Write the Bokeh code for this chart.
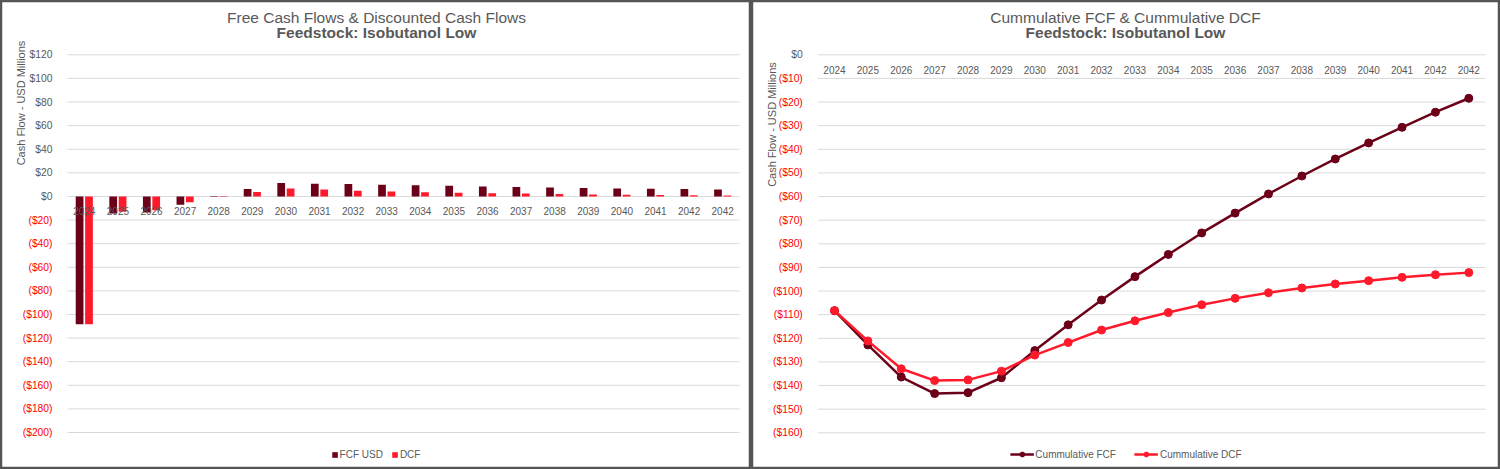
import numpy as np
from bokeh.plotting import figure
from bokeh.models import (LinearAxis, FixedTicker, CustomJSTickFormatter, Range1d,
                          Legend, LegendItem, ColumnDataSource)
from bokeh.transform import dodge
from bokeh.layouts import row
from bokeh.embed import file_html
from bokeh.resources import INLINE
from bokeh.core.properties import value

# ---------------- data ----------------
year_labels = ["2024", "2025", "2026", "2027", "2028", "2029", "2030", "2031", "2032", "2033",
               "2034", "2035", "2036", "2037", "2038", "2039", "2040", "2041", "2042", "2042"]
fcf_usd = [-108.3, -14.4, -13.6, -7.0, 0.4, 6.3, 11.4, 10.8, 10.5, 9.9,
           9.5, 9.0, 8.5, 8.0, 7.5, 7.1, 6.7, 6.5, 6.2, 5.8]
dcf = [-108.3, -12.9, -11.8, -5.0, 0.3, 3.7, 6.8, 5.9, 4.9, 4.2,
       3.5, 3.1, 2.7, 2.4, 2.0, 1.7, 1.4, 1.3, 1.1, 0.9]
cum_fcf = [-108.3, -122.8, -136.4, -143.4, -143.0, -136.7, -125.2, -114.3, -103.8, -93.9,
           -84.5, -75.4, -67.0, -58.9, -51.3, -44.1, -37.3, -30.7, -24.3, -18.4]
cum_dcf = [-108.3, -121.1, -132.9, -137.9, -137.6, -133.9, -127.1, -121.8, -116.5, -112.6,
           -109.1, -105.8, -103.1, -100.7, -98.7, -97.0, -95.6, -94.2, -93.1, -92.2]

left_ticks = [120, 100, 80, 60, 40, 20, 0, -20, -40, -60, -80, -100, -120, -140, -160, -180, -200]
left_tick_labels = ["$120", "$100", "$80", "$60", "$40", "$20", "$0", "($20)", "($40)", "($60)",
                    "($80)", "($100)", "($120)", "($140)", "($160)", "($180)", "($200)"]
right_ticks = [0, -10, -20, -30, -40, -50, -60, -70, -80, -90, -100, -110, -120, -130, -140, -150, -160]
right_tick_labels = ["$0", "($10)", "($20)", "($30)", "($40)", "($50)", "($60)", "($70)", "($80)",
                     "($90)", "($100)", "($110)", "($120)", "($130)", "($140)", "($150)", "($160)"]

# ---------------- style ----------------
WL, WR, H = 751, 749, 469
FONT = "Liberation Sans"
GRAY = "#595959"
RED_LABEL = "#ff0000"
MAROON = "#6b0018"
RED = "#ff1a2b"
GRID = "#d9d9d9"
BORDER = "#555555"
N = len(year_labels)


def mapper(panel_w, px0, px1, py_a, v_a, py_b, v_b, panel_h=469):
    ux = N / (px1 - px0)
    uy = (v_a - v_b) / (py_b - py_a)
    fx = lambda px: (px - px0) * ux
    fy = lambda py: v_a - (py - py_a) * uy
    return fx, fy, (fx(0), fx(panel_w)), (fy(panel_h), fy(0))


def base_panel(width, fx, fy, xr, yr, ticks, tick_labels, title1, title2, ytitle, ytitle_px, title_cx):
    p = figure(width=width, height=H, x_range=Range1d(*xr), y_range=Range1d(*yr),
               x_axis_type=None, y_axis_type=None, toolbar_location=None,
               output_backend="svg", min_border=0,
               outline_line_color=BORDER, outline_line_width=3.5,
               background_fill_color="white", border_fill_color="white")
    # gridlines over the category area
    p.segment(x0=0, x1=N, y0=ticks, y1=ticks, line_color=GRID, line_width=1)

    # y axes: non-negative labels gray, negative labels red
    pos = [(t, l) for t, l in zip(ticks, tick_labels) if t >= 0]
    neg = [(t, l) for t, l in zip(ticks, tick_labels) if t < 0]
    for sub, col in ((pos, GRAY), (neg, RED_LABEL)):
        tv = [t for t, _ in sub]
        lb = [l for _, l in sub]
        ax = LinearAxis(fixed_location=0, ticker=FixedTicker(ticks=tv),
                        formatter=CustomJSTickFormatter(
                            args=dict(tv=tv, lb=lb),
                            code="const i = tv.indexOf(tick); return i >= 0 ? lb[i] : '';"),
                        axis_line_color=None, major_tick_line_color=None,
                        minor_tick_line_color=None,
                        major_label_text_color=col, major_label_text_font=FONT,
                        major_label_text_font_size="10.3px", major_label_standoff=9)
        p.add_layout(ax, "left")

    # category axis crossing at zero
    xa = LinearAxis(fixed_location=0, ticker=FixedTicker(ticks=list(np.arange(N) + 0.5)),
                    formatter=CustomJSTickFormatter(args=dict(lb=year_labels),
                                                    code="return lb[Math.floor(tick)] || '';"),
                    axis_line_color=None, major_tick_line_color=None, minor_tick_line_color=None,
                    major_label_text_color=GRAY, major_label_text_font=FONT,
                    major_label_text_font_size="10px", major_label_standoff=5)
    p.add_layout(xa, "below")

    # titles
    p.text(x=[fx(title_cx)], y=[fy(16.5)], text=[title1], text_align="center",
           text_baseline="middle", text_color=GRAY, text_font=value(FONT),
           text_font_size=value("15.5px"))
    p.text(x=[fx(title_cx)], y=[fy(32)], text=[title2], text_align="center",
           text_baseline="middle", text_color=GRAY, text_font=value(FONT),
           text_font_size=value("15.5px"), text_font_style="bold")
    p.text(x=[fx(ytitle_px[0])], y=[fy(ytitle_px[1])], text=[ytitle], angle=np.pi / 2,
           text_align="center", text_baseline="middle", text_color=GRAY,
           text_font=value(FONT), text_font_size=value("11px"))
    return p


def style_legend(leg, gw, gh, spacing, standoff):
    leg.location = "bottom_center"
    leg.orientation = "horizontal"
    leg.border_line_color = None
    leg.background_fill_alpha = 0
    leg.label_text_font = FONT
    leg.label_text_font_size = "10px"
    leg.label_text_color = GRAY
    leg.glyph_width = gw
    leg.glyph_height = gh
    leg.label_height = 12
    leg.label_standoff = standoff
    leg.spacing = spacing
    leg.margin = 9
    leg.padding = 2


# ---------------- left: bars ----------------
fxl, fyl, xrl, yrl = mapper(WL, 67, 739, 54.3, 120, 432.0, -200)
p1 = base_panel(WL, fxl, fyl, xrl, yrl, left_ticks, left_tick_labels,
                "Free Cash Flows & Discounted Cash Flows", "Feedstock: Isobutanol Low",
                "Cash Flow - USD Millions", (20, 102.5), 376)
src = ColumnDataSource(dict(x=np.arange(N) + 0.5, fcf=fcf_usd, dcf=dcf))
rb1 = p1.vbar(x=dodge("x", -0.14), top="fcf", bottom=0, width=0.23, source=src,
              fill_color=MAROON, line_color=None)
rb2 = p1.vbar(x=dodge("x", 0.14), top="dcf", bottom=0, width=0.23, source=src,
              fill_color=RED, line_color=None)
leg1 = Legend(items=[LegendItem(label="FCF USD", renderers=[rb1]),
                     LegendItem(label="DCF", renderers=[rb2])])
style_legend(leg1, 7, 7, 8, 2)
p1.add_layout(leg1)

# ---------------- right: cumulative lines ----------------
fxr, fyr, xrr, yrr = mapper(WR, 66.3, 734, 54.3, 0, 432.3, -160)
p2 = base_panel(WR, fxr, fyr, xrr, yrr, right_ticks, right_tick_labels,
                "Cummulative FCF & Cummulative DCF", "Feedstock: Isobutanol Low",
                "Cash Flow - USD  Millions", (20.5, 122.5), 374)
src2 = ColumnDataSource(dict(x=np.arange(N) + 0.5, cf=cum_fcf, cd=cum_dcf))
lf = p2.line(x="x", y="cf", source=src2, line_color=MAROON, line_width=2.5)
sf = p2.scatter(x="x", y="cf", source=src2, size=8, fill_color=MAROON, line_color=MAROON)
ld = p2.line(x="x", y="cd", source=src2, line_color=RED, line_width=2.5)
sd = p2.scatter(x="x", y="cd", source=src2, size=8, fill_color=RED, line_color=RED)
leg2 = Legend(items=[LegendItem(label="Cummulative FCF", renderers=[lf, sf]),
                     LegendItem(label="Cummulative DCF", renderers=[ld, sd])])
style_legend(leg2, 24, 12, 18, 2)
p2.add_layout(leg2)

layout = row(p1, p2)
open("out.html", "w").write(file_html(layout, INLINE))
